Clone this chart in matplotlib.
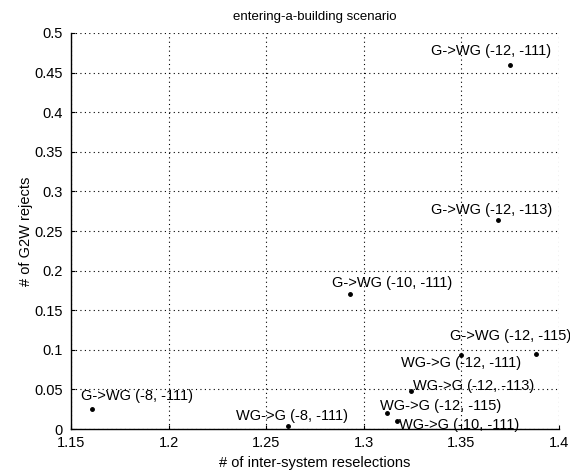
import matplotlib
matplotlib.use("Agg")
import matplotlib.pyplot as plt
import matplotlib.ticker as ticker

plt.rcParams["font.family"] = ["Liberation Sans", "DejaVu Sans"]

# ------------------------------------------------------------------ #
# Data
# ------------------------------------------------------------------ #
labels = [
    "G->WG (-12, -111)",
    "G->WG (-12, -113)",
    "G->WG (-10, -111)",
    "G->WG (-12, -115)",
    "WG->G (-12, -111)",
    "WG->G (-12, -113)",
    "WG->G (-12, -115)",
    "WG->G (-10, -111)",
    "G->WG (-8, -111)",
    "WG->G (-8, -111)",
]
reselections = [1.375, 1.369, 1.293, 1.388, 1.350, 1.324, 1.312, 1.317, 1.161, 1.261]
g2w_rejects = [0.460, 0.264, 0.170, 0.095, 0.093, 0.048, 0.020, 0.010, 0.025, 0.004]

# label offsets in pixels (left edge of text, vertical centre)
label_dx = [-79, -67, -18, -86, -60, 2, -7, 2, -11, -52]
label_dy = [14, 10, 11, 18, -8, 5, 7, -4, 13, 10]

xticks = [1.15, 1.2, 1.25, 1.3, 1.35, 1.4]
yticks = [0, 0.05, 0.1, 0.15, 0.2, 0.25, 0.3, 0.35, 0.4, 0.45, 0.5]

fig = plt.figure(figsize=(5.7, 4.7), dpi=100)
ax = fig.add_axes([0.1246, 0.0872, 0.8561, 0.8426])

ax.plot(reselections, g2w_rejects, linestyle="none", marker=".",
        markersize=5, color="black")

for x, y, txt, dx, dy in zip(reselections, g2w_rejects, labels, label_dx, label_dy):
    ax.annotate(txt, xy=(x, y), xytext=(dx, dy), textcoords="offset pixels",
                ha="left", va="center", fontsize=10.5, color="black",
                annotation_clip=False)

ax.set_xlim(1.15, 1.4)
ax.set_ylim(0, 0.5)
ax.set_xticks(xticks)
ax.set_yticks(yticks)
ax.xaxis.set_major_formatter(ticker.FormatStrFormatter("%g"))
ax.yaxis.set_major_formatter(ticker.FormatStrFormatter("%g"))
ax.tick_params(direction="in", length=3, width=0.8, labelsize=10.5, colors="black")
ax.tick_params(axis="y", pad=6)
ax.tick_params(axis="x", pad=5)

ax.grid(True, linestyle=(0, (1, 3)), color="black", linewidth=0.8)
ax.set_axisbelow(True)
for side in ["top", "right"]:
    ax.spines[side].set_visible(False)
for side in ["left", "bottom"]:
    ax.spines[side].set_linewidth(1.0)
    ax.spines[side].set_color("black")

ax.set_title("entering-a-building scenario", fontsize=9.5, pad=9)
ax.set_xlabel("# of inter-system reselections", fontsize=10.5, labelpad=4)
ax.set_ylabel("# of G2W rejects", fontsize=10.5, labelpad=1)

fig.savefig("out.png", dpi=100)
